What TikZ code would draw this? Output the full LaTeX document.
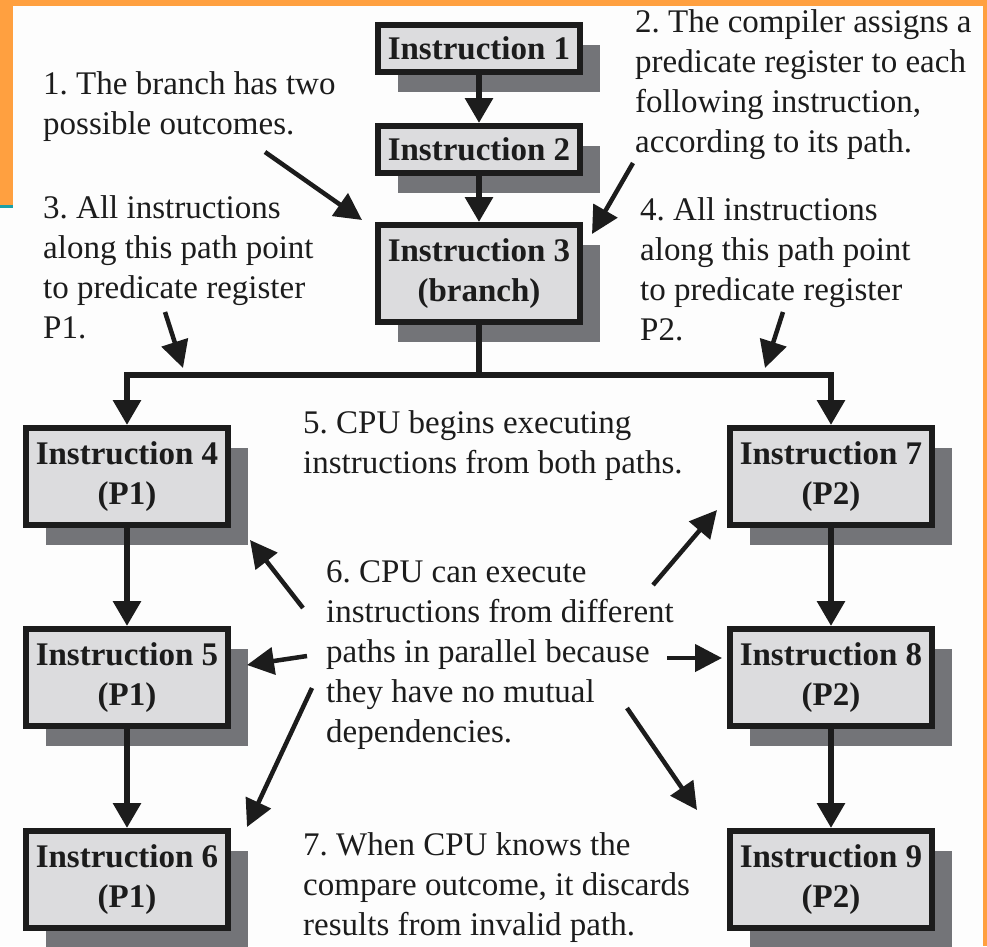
\documentclass[tikz,border=0pt]{standalone}
\usepackage{fontspec}
\setmainfont{Liberation Serif}
\frenchspacing
\usetikzlibrary{arrows.meta,shadows}
\definecolor{paper}{HTML}{FDFDFD}
\definecolor{accent}{HTML}{FFA040}
\definecolor{teal}{HTML}{1AA0A8}
\definecolor{boxfill}{HTML}{DCDCDE}
\definecolor{shade}{HTML}{737478}
\definecolor{ink}{HTML}{1C1C1C}
\begin{document}
\begin{tikzpicture}[x=1pt,y=-1pt,
  instr/.style={draw=ink, line width=6pt, fill=boxfill, text=ink,
    font=\fontsize{33}{40}\selectfont\bfseries, align=center,
    minimum width=202pt, inner sep=0pt,
    drop shadow={shadow xshift=20pt, shadow yshift=-20pt, fill=shade, opacity=1}},
  oneline/.style={instr, minimum height=47pt},
  twoline/.style={instr, minimum height=97pt},
  note/.style={font=\fontsize{33}{40}\selectfont, align=left, inner sep=0pt,
    anchor=base west, text=ink},
  flow/.style={draw=ink, line width=6pt, -{Triangle[length=25pt,width=27pt]}},
  point/.style={draw=ink, line width=4.5pt, -{Triangle[length=27pt,width=27pt]}}]
% page and slide frame
\fill[paper] (0,0) rectangle (987,946);
\useasboundingbox (0,0) rectangle (987,946);
\fill[accent] (0,0) rectangle (987,6);
\fill[accent] (0,0) rectangle (13,205);
\fill[teal] (0,205) rectangle (13,207.5);
\fill[accent] (983,0) rectangle (987,946);

% instruction boxes
\node[oneline] (i1) at (479,48.5) {Instruction 1};
\node[oneline] (i2) at (479,149.5) {Instruction 2};
\node[twoline] (i3) at (479,273.5) {Instruction 3\\(branch)};
\node[twoline] (i4) at (127,476.5) {Instruction 4\\(P1)};
\node[twoline] (i5) at (127,677.5) {Instruction 5\\(P1)};
\node[twoline] (i6) at (127,879.5) {Instruction 6\\(P1)};
\node[twoline] (i7) at (831,476.5) {Instruction 7\\(P2)};
\node[twoline] (i8) at (831,677.5) {Instruction 8\\(P2)};
\node[twoline] (i9) at (831,879.5) {Instruction 9\\(P2)};

% program flow
\draw[flow] (i1) -- (i2);
\draw[flow] (i2) -- (i3);
\coordinate (fork) at (479,375);
\draw[ink, line width=6pt] (i3) -- (fork);
\draw[flow] (fork) -| (i4);
\draw[flow] (fork) -| (i7);
\draw[flow] (i4) -- (i5);
\draw[flow] (i5) -- (i6);
\draw[flow] (i7) -- (i8);
\draw[flow] (i8) -- (i9);

% notes (placed by the baseline of their last line)
\node[note] (t1) at (43,134) {1. The branch has two\\possible outcomes.};
\node[note] (t2) at (635,152) {2. The compiler assigns a\\predicate register to each\\following instruction,\\according to its path.};
\node[note] (t3) at (43,338) {3. All instructions\\along this path point\\to predicate register\\P1.};
\node[note] (t4) at (640,340) {4. All instructions\\along this path point\\to predicate register\\P2.};
\node[note] (t5) at (303,473) {5. CPU begins executing\\instructions from both paths.};
\node[note] (t6) at (326,742) {6. CPU can execute\\instructions from different\\paths in parallel because\\they have no mutual\\dependencies.};
\node[note] (t7) at (303,935) {7. When CPU knows the\\compare outcome, it discards\\results from invalid path.};

% pointer arrows from the notes
\coordinate (p1s) at (265,152); \coordinate (p1e) at (362,220);
\coordinate (p2s) at (633,163); \coordinate (p2e) at (592,234);
\coordinate (p3s) at (165,312); \coordinate (p3e) at (183,368);
\coordinate (p4s) at (783,312); \coordinate (p4e) at (765,368);
\coordinate (p6as) at (303,608); \coordinate (p6ae) at (250,540);
\coordinate (p6bs) at (307,656); \coordinate (p6be) at (247,665);
\coordinate (p6cs) at (312,688); \coordinate (p6ce) at (247,827);
\coordinate (p6ds) at (653,585); \coordinate (p6de) at (717,510);
\coordinate (p6es) at (667,658); \coordinate (p6ee) at (722,658);
\coordinate (p6fs) at (627,708); \coordinate (p6fe) at (697,810);
\draw[point] (p1s) -- (p1e);
\draw[point] (p2s) -- (p2e);
\draw[point] (p3s) -- (p3e);
\draw[point] (p4s) -- (p4e);
\draw[point] (p6as) -- (p6ae);
\draw[point] (p6bs) -- (p6be);
\draw[point] (p6cs) -- (p6ce);
\draw[point] (p6ds) -- (p6de);
\draw[point] (p6es) -- (p6ee);
\draw[point] (p6fs) -- (p6fe);
\end{tikzpicture}
\end{document}
